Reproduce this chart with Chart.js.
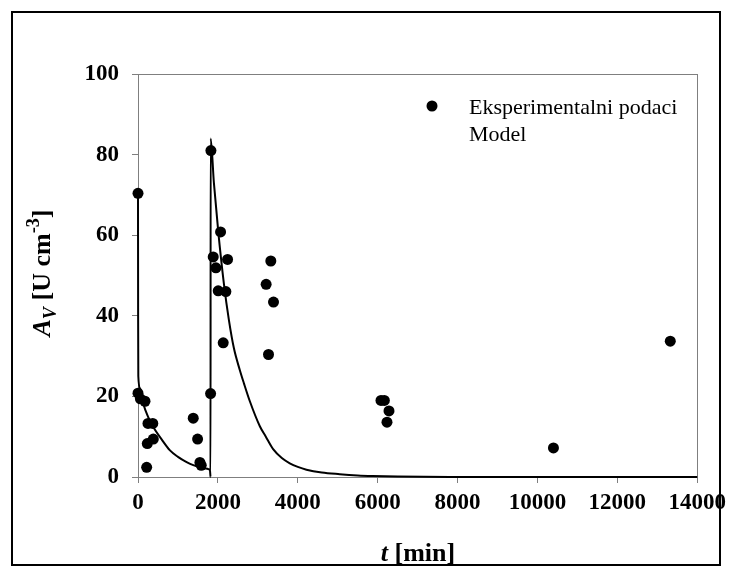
<!DOCTYPE html>
<html>
<head>
<meta charset="utf-8">
<script src="https://cdn.jsdelivr.net/npm/chart.js@4"></script>
<style>
  body { margin: 0; background: #fff; }
  #wrap { position: relative; width: 732px; height: 576px; font-family: "Liberation Serif", "Times New Roman", serif; }
  #frame { position: absolute; left: 11px; top: 11px; width: 706px; height: 551px; border: 2px solid #000; pointer-events: none; }
  .lbl { position: absolute; white-space: nowrap; color: #000; }
  #ytitle { left: 42px; top: 273px; font-size: 26px; font-weight: bold; transform: translate(-50%, -50%) rotate(-90deg); }
  #xtitle { left: 418px; top: 553px; font-size: 26px; font-weight: bold; transform: translate(-50%, -50%); }
  .leg { font-size: 22px; line-height: 22px; }
  sub { font-size: 0.7em; vertical-align: -0.3em; }
  sup { font-size: 0.7em; vertical-align: 0.6em; }
</style>
</head>
<body>
<div id="wrap">
  <canvas id="chart" width="732" height="576"></canvas>
  <div id="frame"></div>
  <div class="lbl" id="ytitle"><i>A</i><sub><i>V</i></sub> [U cm<sup>-3</sup>]</div>
  <div class="lbl" id="xtitle"><i>t</i> [min]</div>
  <div class="lbl leg" style="left:469px; top:96px;">Eksperimentalni podaci</div>
  <div class="lbl leg" style="left:469px; top:123px;">Model</div>
</div>
<script>
// measured points (t in min, activity in U/cm3)
const expT = [0, 0, 60, 175, 250, 370, 233, 383, 217, 1383, 1492, 1550, 1583, 1817,
  1825, 1883, 1950, 2008, 2067, 2133, 2200, 2242, 3208, 3267, 3325, 3392,
  6083, 6167, 6233, 6283, 10400, 13325];
const expA = [70.4, 20.8, 19.4, 18.8, 13.3, 13.3, 8.3, 9.4, 2.4, 14.6, 9.4, 3.6, 2.9, 20.7,
  81, 54.6, 51.9, 46.2, 60.8, 33.3, 46, 54, 47.8, 30.4, 53.6, 43.4,
  19, 19, 13.6, 16.4, 7.2, 33.7];

// model curve
const modelT = [0, 3, 8, 50, 133, 250, 383, 600, 800, 1000, 1217, 1400, 1633, 1800, 1816,
  1818, 1900, 2008, 2150, 2275, 2400, 2550, 2650, 2800, 3050, 3200, 3383, 3600, 3800,
  4000, 4217, 4600, 5050, 5500, 5875, 6500, 8000, 14000];
const modelA = [70.4, 40, 25, 22, 18.2, 15, 12.4, 9.2, 6.6, 5.0, 3.7, 2.9, 2.2, 1.8, 0,
  84, 73, 61, 48, 39, 32, 26.5, 23.3, 18.8, 12.6, 10.0, 6.9, 4.7, 3.4,
  2.5, 1.8, 1.1, 0.7, 0.4, 0.25, 0.1, 0.02, 0];

const xTicks = [0, 2000, 4000, 6000, 8000, 10000, 12000, 14000];
const yTicks = [0, 20, 40, 60, 80, 100];

const axisGray = '#7f7f7f';
const tickFont = { family: 'Liberation Serif', size: 23, weight: 'bold' };

// box around the plot area (under the data) + legend marker
const plotBox = {
  id: 'plotBox',
  beforeDatasetsDraw(chart) {
    const a = chart.chartArea, ctx = chart.ctx;
    ctx.save();
    ctx.strokeStyle = axisGray;
    ctx.lineWidth = 1;
    ctx.strokeRect(Math.round(a.left) + 0.5, Math.round(a.top) + 0.5,
      Math.round(a.right - a.left), Math.round(a.bottom - a.top));
    ctx.restore();
  },
  afterDraw(chart) {
    const ctx = chart.ctx;
    ctx.save();
    ctx.fillStyle = '#000';
    ctx.beginPath();
    ctx.arc(432, 106, 5.5, 0, Math.PI * 2);
    ctx.fill();
    ctx.restore();
  }
};

new Chart(document.getElementById('chart'), {
  type: 'scatter',
  data: {
    datasets: [
      {
        label: 'Model',
        data: modelT.map((t, i) => ({ x: t, y: modelA[i] })),
        showLine: true,
        borderColor: '#000',
        borderWidth: 2,
        pointRadius: 0,
        cubicInterpolationMode: 'monotone',
        clip: false,
        order: 2
      },
      {
        label: 'Eksperimentalni podaci',
        data: expT.map((t, i) => ({ x: t, y: expA[i] })),
        backgroundColor: '#000',
        borderWidth: 0,
        pointRadius: 5.5,
        clip: false,
        order: 1
      }
    ]
  },
  options: {
    responsive: false,
    animation: false,
    devicePixelRatio: 1,
    layout: { padding: { top: 74, right: 34, left: 0, bottom: 0 } },
    plugins: { legend: { display: false }, tooltip: { enabled: false } },
    scales: {
      x: {
        type: 'linear', min: 0, max: 14000,
        afterBuildTicks: s => { s.ticks = xTicks.map(v => ({ value: v })); },
        afterFit: s => { s.height = 99; },
        ticks: { font: tickFont, color: '#000', padding: 6, maxRotation: 0, callback: v => String(v) },
        grid: { drawOnChartArea: false, tickLength: 6, color: axisGray },
        border: { color: axisGray }
      },
      y: {
        min: 0, max: 100,
        afterBuildTicks: s => { s.ticks = yTicks.map(v => ({ value: v })); },
        afterFit: s => { s.width = 138; },
        ticks: { font: tickFont, color: '#000', padding: 13, callback: v => String(v) },
        grid: { drawOnChartArea: false, tickLength: 6, color: axisGray },
        border: { color: axisGray }
      }
    }
  },
  plugins: [plotBox]
});
</script>
</body>
</html>
